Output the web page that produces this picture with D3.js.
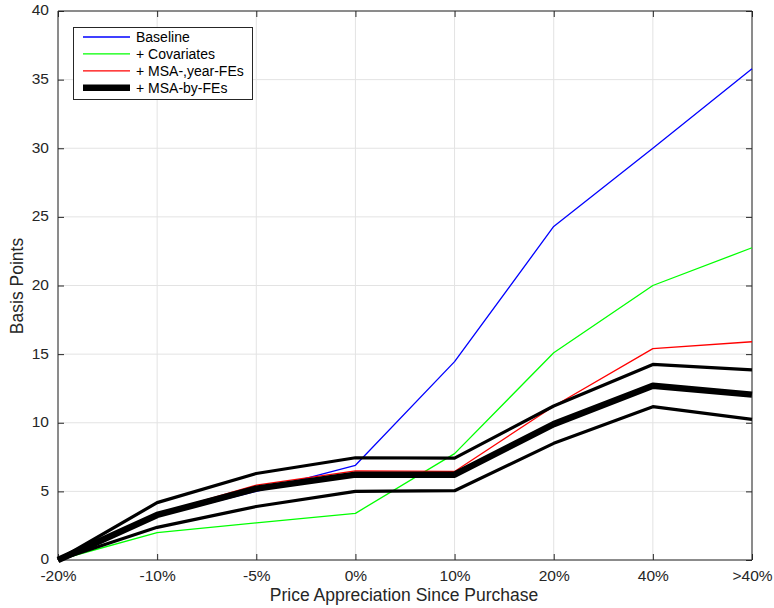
<!DOCTYPE html>
<html>
<head>
<meta charset="utf-8">
<script src="https://cdn.jsdelivr.net/npm/d3@7"></script>
<style>
  html, body { margin: 0; padding: 0; background: #fff; }
  svg { display: block; font-family: Arial, "Liberation Sans", Helvetica, sans-serif; }
</style>
</head>
<body>
<svg id="chart" width="774" height="608"></svg>
<script>
// Price-appreciation buckets on the x axis
const categories = ["-20%", "-10%", "-5%", "0%", "10%", "20%", "40%", ">40%"];

// Estimated effects (basis points) for each specification
const baseline   = [0, 3.2, 5.0, 6.9, 14.45, 24.3, 30.0, 35.8];
const covariates = [0, 2.0, 2.7, 3.4, 7.75, 15.1, 20.0, 22.75];
const msaYearFE  = [0, 3.35, 5.45, 6.5, 6.45, 11.2, 15.4, 15.9];
const msaByFE    = [0, 3.28, 5.2, 6.22, 6.22, 9.9, 12.7, 12.05];
// Confidence band around the MSA-by-FE estimate
const msaByFEUpper = [0, 4.18, 6.3, 7.45, 7.42, 11.22, 14.25, 13.85];
const msaByFELower = [0, 2.38, 3.9, 5.0, 5.05, 8.5, 11.17, 10.25];

const yTicks = [0, 5, 10, 15, 20, 25, 30, 35, 40];
const legendLabels = ["Baseline", "+ Covariates", "+ MSA-,year-FEs", "+ MSA-by-FEs"];

const svg = d3.select("#chart");
const plotLeft = 58, plotRight = 752, plotTop = 11, plotBottom = 560;
const axisColor = "#262626";

const x = d3.scalePoint().domain(categories).range([plotLeft, plotRight]).padding(0);
const y = d3.scaleLinear().domain([0, 40]).range([plotBottom, plotTop]);

// Grid lines
const grid = svg.append("g").attr("stroke", "#e3e3e3").attr("stroke-width", 1);
categories.forEach(c => grid.append("line")
  .attr("x1", x(c)).attr("x2", x(c)).attr("y1", plotTop).attr("y2", plotBottom));
yTicks.forEach(t => grid.append("line")
  .attr("x1", plotLeft).attr("x2", plotRight).attr("y1", y(t)).attr("y2", y(t)));

// Axes with inward ticks on all four sides
const tickLen = 6;
const gBottom = svg.append("g").attr("transform", `translate(0,${plotBottom})`)
  .call(d3.axisBottom(x).tickSize(-tickLen).tickPadding(9.5));
const gTop = svg.append("g").attr("transform", `translate(0,${plotTop})`)
  .call(d3.axisTop(x).tickSize(-tickLen).tickFormat(""));
const gLeft = svg.append("g").attr("transform", `translate(${plotLeft},0)`)
  .call(d3.axisLeft(y).tickValues(yTicks).tickSize(-tickLen).tickPadding(9));
const gRight = svg.append("g").attr("transform", `translate(${plotRight},0)`)
  .call(d3.axisRight(y).tickValues(yTicks).tickSize(-tickLen).tickFormat(""));

[gBottom, gTop, gLeft, gRight].forEach(g => {
  g.select(".domain").attr("stroke", axisColor).attr("stroke-width", 1);
  g.selectAll(".tick line").attr("stroke", axisColor);
  g.selectAll(".tick text").attr("fill", axisColor)
    .style("font-size", "15.5px").style("font-family", "Arial, 'Liberation Sans', sans-serif");
});
gLeft.selectAll(".tick text").attr("dy", "0.25em");
gTop.select(".domain").attr("d", `M${plotLeft},0H${plotRight}`);
gBottom.select(".domain").attr("d", `M${plotLeft},0H${plotRight}`);
gLeft.select(".domain").attr("d", `M0,${plotTop}V${plotBottom}`);
gRight.select(".domain").attr("d", `M0,${plotTop}V${plotBottom}`);

// Series lines
const line = d3.line().x((d, i) => x(categories[i])).y(d => y(d));
const series = [
  { values: baseline,     color: "#0000ff", width: 1.3 },
  { values: covariates,   color: "#00ff00", width: 1.3 },
  { values: msaYearFE,    color: "#ff0000", width: 1.3 },
  { values: msaByFEUpper, color: "#000000", width: 3.2 },
  { values: msaByFELower, color: "#000000", width: 3.2 },
  { values: msaByFE,      color: "#000000", width: 6.5 }
];
svg.append("g").selectAll("path").data(series).join("path")
  .attr("d", d => line(d.values))
  .attr("fill", "none")
  .attr("stroke", d => d.color)
  .attr("stroke-width", d => d.width)
  .attr("stroke-linejoin", "round");

// Axis titles
svg.append("text")
  .attr("x", 404).attr("y", 600.5)
  .attr("text-anchor", "middle").attr("fill", axisColor)
  .style("font-size", "17.5px")
  .text("Price Appreciation Since Purchase");
svg.append("text")
  .attr("transform", `translate(23,286) rotate(-90)`)
  .attr("text-anchor", "middle").attr("fill", axisColor)
  .style("font-size", "17.5px")
  .text("Basis Points");

// Legend
const legendColors = ["#0000ff", "#00ff00", "#ff0000", "#000000"];
const legendWidths = [1.3, 1.3, 1.3, 6.5];
const lg = svg.append("g");
lg.append("rect")
  .attr("x", 73.5).attr("y", 27.5).attr("width", 179).attr("height", 72)
  .attr("fill", "#fff").attr("stroke", axisColor).attr("stroke-width", 1);
legendLabels.forEach((lab, i) => {
  const cy = 37 + i * 16.9;
  lg.append("line")
    .attr("x1", 83).attr("x2", 130).attr("y1", cy).attr("y2", cy)
    .attr("stroke", legendColors[i]).attr("stroke-width", legendWidths[i]);
  lg.append("text")
    .attr("x", 136).attr("y", cy + 5)
    .attr("fill", "#000")
    .style("font-size", "14px")
    .text(lab);
});
</script>
</body>
</html>
